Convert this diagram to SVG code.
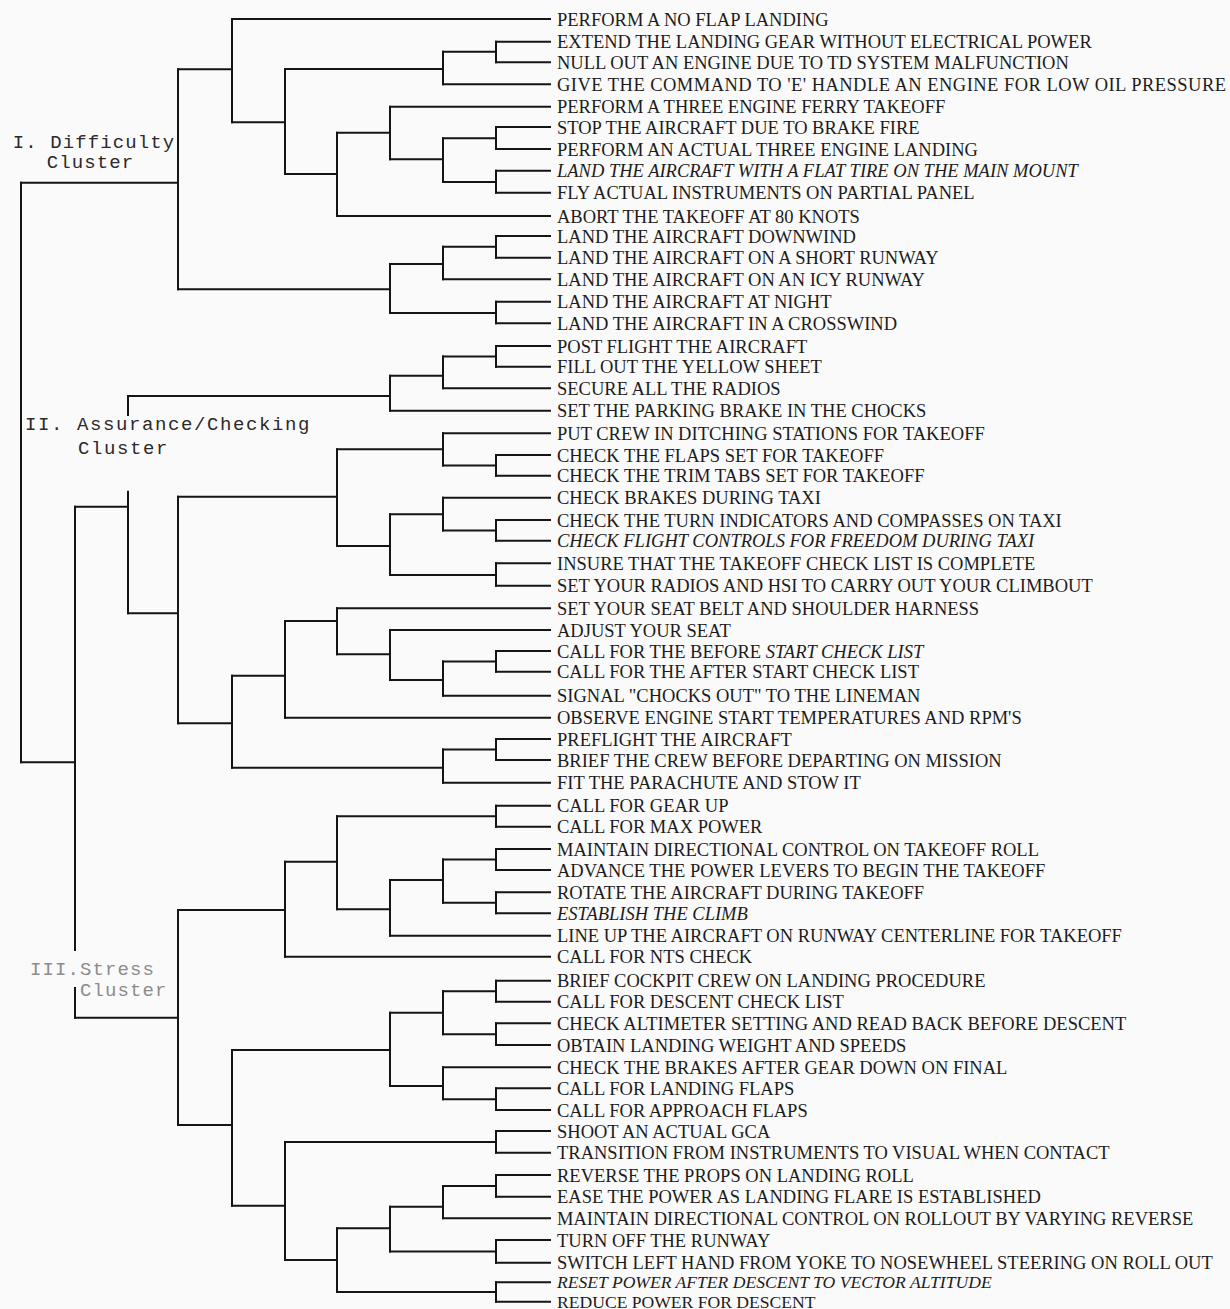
<svg xmlns="http://www.w3.org/2000/svg" width="1230" height="1309" viewBox="0 0 1230 1309">
  <style>
    .bg { fill: #fafafa; }
    .ln { fill: none; stroke: #151515; stroke-width: 2; stroke-linecap: square; }
    .lf { font-family: "Liberation Serif", "Times New Roman", serif; font-size: 18.5px; fill: #1c1c1c; }
    .it { font-style: italic; }
    .sm { font-size: 17.6px; }
    .cl { font-family: "Liberation Mono", "DejaVu Sans Mono", monospace; font-size: 19px; letter-spacing: 1.1px; fill: #2a2a2a; }
    .cl2 { letter-spacing: 1.6px; }
    .faint { fill: #8c8c8c; }
  </style>
  <rect class="bg" x="0" y="0" width="1230" height="1309"/>

  <!-- dendrogram branches -->
  <g id="connectors" class="ln">
    <!-- root -->
    <path d="M21 182.7V762.3"/>
    <!-- I. Difficulty cluster -->
    <path d="M21 182.7H178M178 69.3V289.3"/>
    <path d="M178 69.3H232M232 19V122.3"/>
    <path d="M232 19H550"/>
    <path d="M232 122.3H285M285 69V174"/>
    <path d="M285 69H443M443 51.7V84.3"/>
    <path d="M443 51.7H496M496 41.7V62.3"/>
    <path d="M496 41.7H550M496 62.3H550M443 84.3H550"/>
    <path d="M285 174H337M337 132.7V216"/>
    <path d="M337 132.7H390M390 106.7V159.3"/>
    <path d="M390 106.7H550"/>
    <path d="M390 159.3H443M443 138.3V182"/>
    <path d="M443 138.3H496M496 127V149"/>
    <path d="M496 127H550M496 149H550"/>
    <path d="M443 182H496M496 170.7V192.7"/>
    <path d="M496 170.7H550M496 192.7H550"/>
    <path d="M337 216H550"/>
    <path d="M178 289.3H390M390 264V313"/>
    <path d="M390 264H443M443 246.7V279.3"/>
    <path d="M443 246.7H496M496 236V257.7"/>
    <path d="M496 236H550M496 257.7H550M443 279.3H550"/>
    <path d="M390 313H496M496 301.7V323.3"/>
    <path d="M496 301.7H550M496 323.3H550"/>

    <!-- joint of clusters II and III -->
    <path d="M21 762.3H75M75 506.7V950M75 988V1017.7"/>

    <!-- II. Assurance/Checking cluster -->
    <path d="M75 506.7H128M128 396V415M128 491.7V613.3"/>
    <path d="M128 396H390M390 375.7V410.7"/>
    <path d="M390 375.7H443M443 356.5V388.3"/>
    <path d="M443 356.5H496M496 346V366.7"/>
    <path d="M496 346H550M496 366.7H550M443 388.3H550M390 410.7H550"/>
    <path d="M128 613.3H178M178 496.7V723.3"/>
    <path d="M178 496.7H337M337 449.3V546"/>
    <path d="M337 449.3H443M443 433.3V465.5"/>
    <path d="M443 433.3H550"/>
    <path d="M443 465.5H496M496 455V475.7"/>
    <path d="M496 455H550M496 475.7H550"/>
    <path d="M337 546H390M390 514.3V575"/>
    <path d="M390 514.3H443M443 497.7V530.5"/>
    <path d="M443 497.7H550"/>
    <path d="M443 530.5H496M496 520V540.7"/>
    <path d="M496 520H550M496 540.7H550"/>
    <path d="M390 575H496M496 563.3V585.7"/>
    <path d="M496 563.3H550M496 585.7H550"/>
    <path d="M178 723.3H232M232 675.7V767.7"/>
    <path d="M232 675.7H285M285 621V717.7"/>
    <path d="M285 621H337M337 608.3V654.3"/>
    <path d="M337 608.3H550"/>
    <path d="M337 654.3H390M390 630V680"/>
    <path d="M390 630H550"/>
    <path d="M390 680H443M443 661.5V695.7"/>
    <path d="M443 661.5H496M496 651V671.7"/>
    <path d="M496 651H550M496 671.7H550M443 695.7H550"/>
    <path d="M285 717.7H550"/>
    <path d="M232 767.7H443M443 749.5V782.7"/>
    <path d="M443 749.5H496M496 739V760"/>
    <path d="M496 739H550M496 760H550M443 782.7H550"/>

    <!-- III. Stress cluster -->
    <path d="M75 1017.7H178M178 910V1125"/>
    <path d="M178 910H285M285 861.7V956.7"/>
    <path d="M285 861.7H337M337 816.2V909.3"/>
    <path d="M337 816.2H496M496 805.7V826.7"/>
    <path d="M496 805.7H550M496 826.7H550"/>
    <path d="M337 909.3H390M390 880V935.7"/>
    <path d="M390 880H443M443 859.5V902.8"/>
    <path d="M443 859.5H496M496 849V870"/>
    <path d="M496 849H550M496 870H550"/>
    <path d="M443 902.8H496M496 892.3V913.3"/>
    <path d="M496 892.3H550M496 913.3H550"/>
    <path d="M390 935.7H550M285 956.7H550"/>
    <path d="M178 1125H232M232 1050V1205.7"/>
    <path d="M232 1050H390M390 1012.7V1086"/>
    <path d="M390 1012.7H443M443 991.2V1034.2"/>
    <path d="M443 991.2H496M496 980.7V1001.7"/>
    <path d="M496 980.7H550M496 1001.7H550"/>
    <path d="M443 1034.2H496M496 1023.3V1045"/>
    <path d="M496 1023.3H550M496 1045H550"/>
    <path d="M390 1086H443M443 1067.3V1099.2"/>
    <path d="M443 1067.3H550"/>
    <path d="M443 1099.2H496M496 1088.3V1110"/>
    <path d="M496 1088.3H550M496 1110H550"/>
    <path d="M232 1205.7H285M285 1142V1260"/>
    <path d="M285 1142H496M496 1131V1152.7"/>
    <path d="M496 1131H550M496 1152.7H550"/>
    <path d="M285 1260H337M337 1228.3V1292"/>
    <path d="M337 1228.3H390M390 1206.7V1251.4"/>
    <path d="M390 1206.7H443M443 1186V1218.3"/>
    <path d="M443 1186H496M496 1175V1196.7"/>
    <path d="M496 1175H550M496 1196.7H550M443 1218.3H550"/>
    <path d="M390 1251.4H496M496 1240V1262.7"/>
    <path d="M496 1240H550M496 1262.7H550"/>
    <path d="M337 1292H496M496 1282.2V1301.8"/>
    <path d="M496 1282.2H550M496 1301.8H550"/>
  </g>

  <!-- cluster headings -->
  <g id="cluster-difficulty" class="cl">
    <text x="12.7" y="148">I. Difficulty</text>
    <text x="46.7" y="168">Cluster</text>
  </g>
  <g id="cluster-assurance" class="cl cl2">
    <text x="25" y="430">II. Assurance/Checking</text>
    <text x="78" y="454">Cluster</text>
  </g>
  <g id="cluster-stress" class="cl faint">
    <text x="30" y="975">III.Stress</text>
    <text x="80" y="996">Cluster</text>
  </g>

  <!-- task items -->
  <g class="lf">
    <g id="item-01"><text x="557" y="25.6">PERFORM A NO FLAP LANDING</text></g>
    <g id="item-02"><text x="557" y="48.3">EXTEND THE LANDING GEAR WITHOUT ELECTRICAL POWER</text></g>
    <g id="item-03"><text x="557" y="68.9">NULL OUT AN ENGINE DUE TO TD SYSTEM MALFUNCTION</text></g>
    <g id="item-04"><text x="557" y="90.9" textLength="669">GIVE THE COMMAND TO 'E' HANDLE AN ENGINE FOR LOW OIL PRESSURE</text></g>
    <g id="item-05"><text x="557" y="113.3">PERFORM A THREE ENGINE FERRY TAKEOFF</text></g>
    <g id="item-06"><text x="557" y="133.6">STOP THE AIRCRAFT DUE TO BRAKE FIRE</text></g>
    <g id="item-07"><text x="557" y="155.6">PERFORM AN ACTUAL THREE ENGINE LANDING</text></g>
    <g id="item-08"><text class="it" x="557" y="177.3">LAND THE AIRCRAFT WITH A FLAT TIRE ON THE MAIN MOUNT</text></g>
    <g id="item-09"><text x="557" y="199.3">FLY ACTUAL INSTRUMENTS ON PARTIAL PANEL</text></g>
    <g id="item-10"><text x="557" y="222.6">ABORT THE TAKEOFF AT 80 KNOTS</text></g>
    <g id="item-11"><text x="557" y="242.6">LAND THE AIRCRAFT DOWNWIND</text></g>
    <g id="item-12"><text x="557" y="264.3">LAND THE AIRCRAFT ON A SHORT RUNWAY</text></g>
    <g id="item-13"><text x="557" y="285.9">LAND THE AIRCRAFT ON AN ICY RUNWAY</text></g>
    <g id="item-14"><text x="557" y="308.3">LAND THE AIRCRAFT AT NIGHT</text></g>
    <g id="item-15"><text x="557" y="329.9">LAND THE AIRCRAFT IN A CROSSWIND</text></g>
    <g id="item-16"><text x="557" y="352.6">POST FLIGHT THE AIRCRAFT</text></g>
    <g id="item-17"><text x="557" y="373.3">FILL OUT THE YELLOW SHEET</text></g>
    <g id="item-18"><text x="557" y="394.9">SECURE ALL THE RADIOS</text></g>
    <g id="item-19"><text x="557" y="417.3">SET THE PARKING BRAKE IN THE CHOCKS</text></g>
    <g id="item-20"><text x="557" y="439.9">PUT CREW IN DITCHING STATIONS FOR TAKEOFF</text></g>
    <g id="item-21"><text x="557" y="461.6">CHECK THE FLAPS SET FOR TAKEOFF</text></g>
    <g id="item-22"><text x="557" y="482.3">CHECK THE TRIM TABS SET FOR TAKEOFF</text></g>
    <g id="item-23"><text x="557" y="504.3">CHECK BRAKES DURING TAXI</text></g>
    <g id="item-24"><text x="557" y="526.6">CHECK THE TURN INDICATORS AND COMPASSES ON TAXI</text></g>
    <g id="item-25"><text class="it" x="557" y="547.3">CHECK FLIGHT CONTROLS FOR FREEDOM DURING TAXI</text></g>
    <g id="item-26"><text x="557" y="569.9">INSURE THAT THE TAKEOFF CHECK LIST IS COMPLETE</text></g>
    <g id="item-27"><text x="557" y="592.3">SET YOUR RADIOS AND HSI TO CARRY OUT YOUR CLIMBOUT</text></g>
    <g id="item-28"><text x="557" y="614.9">SET YOUR SEAT BELT AND SHOULDER HARNESS</text></g>
    <g id="item-29"><text x="557" y="636.6">ADJUST YOUR SEAT</text></g>
    <g id="item-30"><text x="557" y="657.6">CALL FOR THE BEFORE <tspan class="it">START CHECK LIST</tspan></text></g>
    <g id="item-31"><text x="557" y="678.3">CALL FOR THE AFTER START CHECK LIST</text></g>
    <g id="item-32"><text x="557" y="702.3">SIGNAL "CHOCKS OUT" TO THE LINEMAN</text></g>
    <g id="item-33"><text x="557" y="724.3">OBSERVE ENGINE START TEMPERATURES AND RPM'S</text></g>
    <g id="item-34"><text x="557" y="745.6">PREFLIGHT THE AIRCRAFT</text></g>
    <g id="item-35"><text x="557" y="766.6">BRIEF THE CREW BEFORE DEPARTING ON MISSION</text></g>
    <g id="item-36"><text x="557" y="789.3">FIT THE PARACHUTE AND STOW IT</text></g>
    <g id="item-37"><text x="557" y="812.3">CALL FOR GEAR UP</text></g>
    <g id="item-38"><text x="557" y="833.3">CALL FOR MAX POWER</text></g>
    <g id="item-39"><text x="557" y="855.6">MAINTAIN DIRECTIONAL CONTROL ON TAKEOFF ROLL</text></g>
    <g id="item-40"><text x="557" y="876.6">ADVANCE THE POWER LEVERS TO BEGIN THE TAKEOFF</text></g>
    <g id="item-41"><text x="557" y="898.9">ROTATE THE AIRCRAFT DURING TAKEOFF</text></g>
    <g id="item-42"><text class="it" x="557" y="919.9">ESTABLISH THE CLIMB</text></g>
    <g id="item-43"><text x="557" y="942.3">LINE UP THE AIRCRAFT ON RUNWAY CENTERLINE FOR TAKEOFF</text></g>
    <g id="item-44"><text x="557" y="963.3">CALL FOR NTS CHECK</text></g>
    <g id="item-45"><text x="557" y="987.3">BRIEF COCKPIT CREW ON LANDING PROCEDURE</text></g>
    <g id="item-46"><text x="557" y="1008.3">CALL FOR DESCENT CHECK LIST</text></g>
    <g id="item-47"><text x="557" y="1029.9">CHECK ALTIMETER SETTING AND READ BACK BEFORE DESCENT</text></g>
    <g id="item-48"><text x="557" y="1051.6">OBTAIN LANDING WEIGHT AND SPEEDS</text></g>
    <g id="item-49"><text x="557" y="1073.9">CHECK THE BRAKES AFTER GEAR DOWN ON FINAL</text></g>
    <g id="item-50"><text x="557" y="1094.9">CALL FOR LANDING FLAPS</text></g>
    <g id="item-51"><text x="557" y="1116.6">CALL FOR APPROACH FLAPS</text></g>
    <g id="item-52"><text x="557" y="1137.6">SHOOT AN ACTUAL GCA</text></g>
    <g id="item-53"><text x="557" y="1159.3">TRANSITION FROM INSTRUMENTS TO VISUAL WHEN CONTACT</text></g>
    <g id="item-54"><text x="557" y="1181.6">REVERSE THE PROPS ON LANDING ROLL</text></g>
    <g id="item-55"><text x="557" y="1203.3">EASE THE POWER AS LANDING FLARE IS ESTABLISHED</text></g>
    <g id="item-56"><text x="557" y="1224.9">MAINTAIN DIRECTIONAL CONTROL ON ROLLOUT BY VARYING REVERSE</text></g>
    <g id="item-57"><text x="557" y="1246.6">TURN OFF THE RUNWAY</text></g>
    <g id="item-58"><text x="557" y="1269.3">SWITCH LEFT HAND FROM YOKE TO NOSEWHEEL STEERING ON ROLL OUT</text></g>
    <g id="item-59"><text class="it sm" x="557" y="1287.8">RESET POWER AFTER DESCENT TO VECTOR ALTITUDE</text></g>
    <g id="item-60"><text class="sm" x="557" y="1307.6">REDUCE POWER FOR DESCENT</text></g>
  </g>
</svg>
